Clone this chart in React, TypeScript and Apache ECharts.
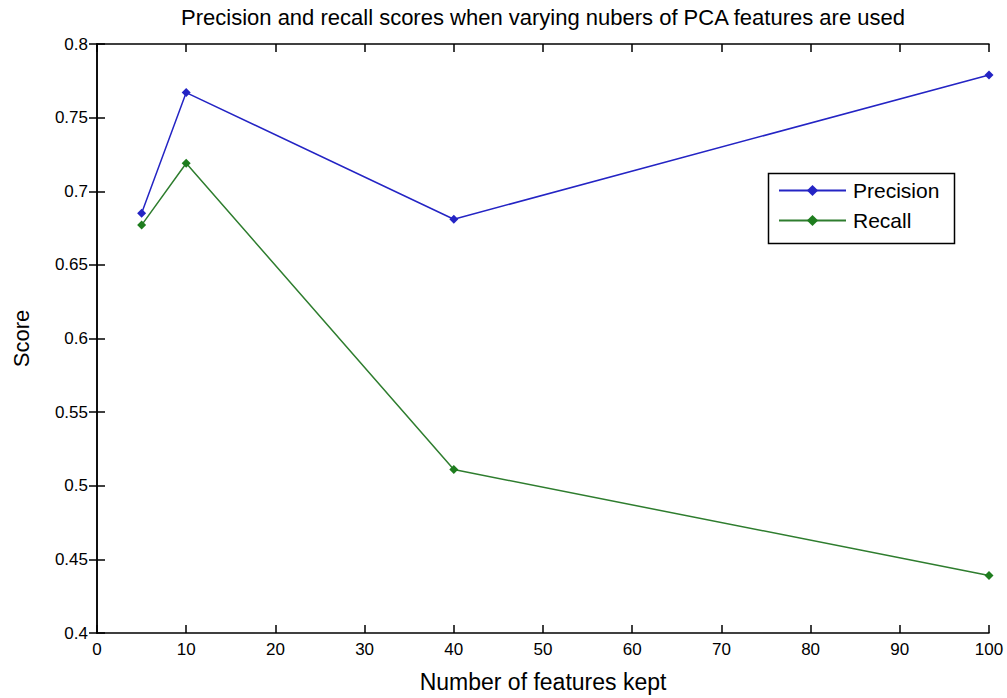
import React, { useEffect, useRef } from "react";
import * as echarts from "echarts";

const titleText = "Precision and recall scores when varying nubers of PCA features are used";
const xName = "Number of features kept";
const yName = "Score";
const featureCounts = [5, 10, 40, 100];
const precision = [0.685, 0.767, 0.681, 0.779];
const recall = [0.677, 0.719, 0.511, 0.439];
const seriesNames = ["Precision", "Recall"];

const FONT = "'Liberation Sans', Arial, sans-serif";

export default function App() {
  const ref = useRef<HTMLDivElement>(null);
  useEffect(() => {
    if (!ref.current) return;
    const chart = echarts.init(ref.current, undefined, { renderer: "svg" });
    const axisLine = { show: true, lineStyle: { color: "#000", width: 1.5 } };
    const tick = { show: true, inside: true, length: 8, lineStyle: { color: "#000", width: 1.5 } };
    chart.setOption({
      animation: false,
      backgroundColor: "#fff",
      textStyle: { fontFamily: FONT },
      grid: { left: 97, right: 18, top: 44, bottom: 63 },
      legend: {
        orient: "vertical",
        left: 778,
        top: 180,
        padding: 0,
        itemWidth: 67,
        itemHeight: 14,
        itemGap: 9,
        textStyle: {
          fontFamily: FONT,
          fontSize: 21,
          color: "#000",
          padding: [0, 0, 0, 2],
        },
        data: seriesNames,
      },
      graphic: [
        {
          type: "text",
          x: 543,
          y: 17,
          style: {
            text: titleText,
            fontFamily: FONT,
            fontSize: 22,
            fill: "#000",
            align: "center",
            verticalAlign: "middle",
          },
        },
        {
          type: "rect",
          left: 766,
          top: 171,
          shape: { width: 186, height: 70 },
          style: { fill: "none", stroke: "#000", lineWidth: 1.5 },
          z: 10,
        },
      ],
      xAxis: [
        {
          type: "value",
          min: 0,
          max: 100,
          interval: 10,
          name: xName,
          nameLocation: "middle",
          nameGap: 37,
          nameTextStyle: { fontFamily: FONT, fontSize: 23, color: "#000" },
          axisLine,
          axisTick: tick,
          splitLine: { show: false },
          axisLabel: { fontFamily: FONT, fontSize: 17, color: "#000", margin: 8 },
        },
        {
          type: "value",
          position: "top",
          min: 0,
          max: 100,
          interval: 10,
          axisLine,
          axisTick: tick,
          splitLine: { show: false },
          axisLabel: { show: false },
        },
      ],
      yAxis: [
        {
          type: "value",
          min: 0.4,
          max: 0.8,
          interval: 0.05,
          name: yName,
          nameLocation: "middle",
          nameGap: 65,
          nameTextStyle: { fontFamily: FONT, fontSize: 22, color: "#000" },
          axisLine,
          axisTick: tick,
          splitLine: { show: false },
          axisLabel: {
            fontFamily: FONT,
            fontSize: 17,
            color: "#000",
            margin: 9,
            formatter: (v: number) => String(parseFloat(v.toFixed(2))),
          },
        },
        {
          type: "value",
          position: "right",
          min: 0.4,
          max: 0.8,
          interval: 0.05,
          axisLine,
          axisTick: tick,
          splitLine: { show: false },
          axisLabel: { show: false },
        },
      ],
      series: [
        {
          name: seriesNames[0],
          type: "line",
          data: featureCounts.map((x, i) => [x, precision[i]]),
          symbol: "diamond",
          symbolSize: 9,
          color: "#2424c4",
          lineStyle: { width: 1.5, color: "#2424c4" },
          itemStyle: { color: "#2424c4" },
        },
        {
          name: seriesNames[1],
          type: "line",
          data: featureCounts.map((x, i) => [x, recall[i]]),
          symbol: "diamond",
          symbolSize: 9,
          color: "#1e7d1e",
          lineStyle: { width: 1.5, color: "#2e7d2e" },
          itemStyle: { color: "#1e7d1e" },
        },
      ],
    });
    return () => chart.dispose();
  }, []);
  return (
    <div
      ref={ref}
      style={{ position: "fixed", left: 0, top: 0, width: 1007, height: 698, background: "#fff" }}
    />
  );
}
